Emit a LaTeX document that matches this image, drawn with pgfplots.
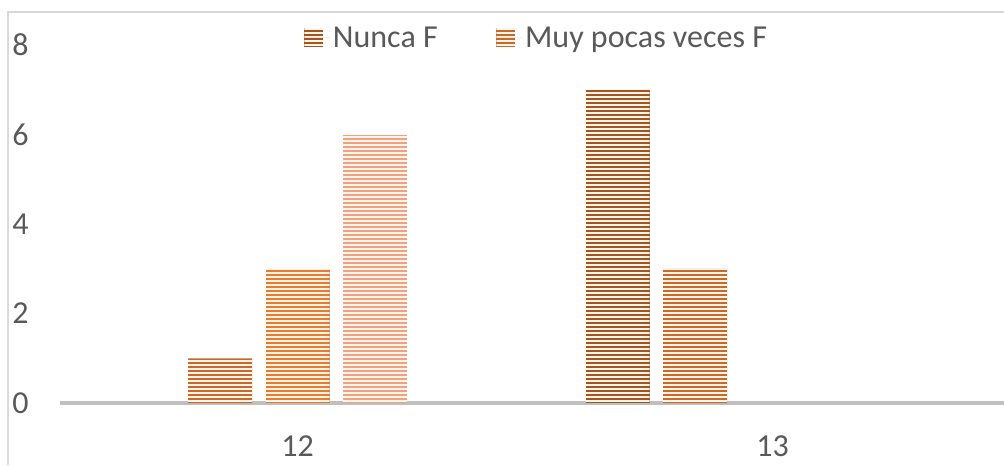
\documentclass[border=0pt]{standalone}
\usepackage{fontspec}
\setmainfont{Carlito}
\usepackage{pgfplots}
\pgfplotsset{compat=1.18}
\usetikzlibrary{patterns.meta}
\definecolor{cA}{HTML}{A5531F}
\definecolor{cB}{HTML}{C8692A}
\definecolor{cC}{HTML}{E97A2E}
\definecolor{cD}{HTML}{F1A181}
\definecolor{txt}{HTML}{595959}
\definecolor{axl}{HTML}{BFBFBF}
\definecolor{frm}{HTML}{D9D9D9}
\tikzset{stripes/.style={postaction={pattern={Lines[angle=0,distance=3pt,line width=0.9pt]},pattern color=white!92!orange}}}
\begin{document}
\begin{tikzpicture}
\path[use as bounding box] (0,0) rectangle (753pt,348.75pt);
\draw[frm, line width=0.9pt] (6pt,0) -- (6pt,339.75pt) -- (760pt,339.75pt);
\begin{axis}[
  at={(45pt,46.5pt)}, anchor=south west,
  scale only axis, width=708pt, height=268.5pt,
  xmin=11.5, xmax=13.487, ymin=0, ymax=8,
  ybar, bar width=48pt,
  xtick={12,13}, ytick={0,2,4,6,8},
  axis x line*=bottom, axis y line*=left,
  x axis line style={draw=axl, line width=2.5pt, -},
  y axis line style={draw=none},
  major tick length=0pt,
  /pgf/number format/assume math mode=true,
  tick label style={font=\fontsize{24}{28}\selectfont, text=txt},
  yticklabel style={anchor=west, inner sep=0pt, xshift=-36pt},
  xticklabel style={anchor=north, inner sep=0pt, yshift=-24pt},
  legend columns=2,
  legend style={at={(0.2585,1.02)}, anchor=west, xshift=-3pt, draw=none, fill=none,
    font=\fontsize{24}{28}\selectfont, text=txt,
    /tikz/every even column/.append style={column sep=42pt}},
  legend image code/.code={\fill[#1] (0pt,-7pt) rectangle (14.25pt,7.25pt); \path (0pt,0pt) -- (19.5pt,0pt);},
  clip=false,
]
\addplot[fill=cA, draw=none, stripes, bar shift=-116.25pt] coordinates {(13,7)};
\addplot[fill=cB, draw=none, stripes, bar shift=-58.125pt] coordinates {(12,1) (13,3)};
\addplot[fill=cC, draw=none, stripes, bar shift=0pt] coordinates {(12,3)};
\addplot[fill=cD, draw=none, stripes, bar shift=58.125pt] coordinates {(12,6)};
\legend{Nunca F, Muy pocas veces F}
\end{axis}
\end{tikzpicture}
\end{document}
